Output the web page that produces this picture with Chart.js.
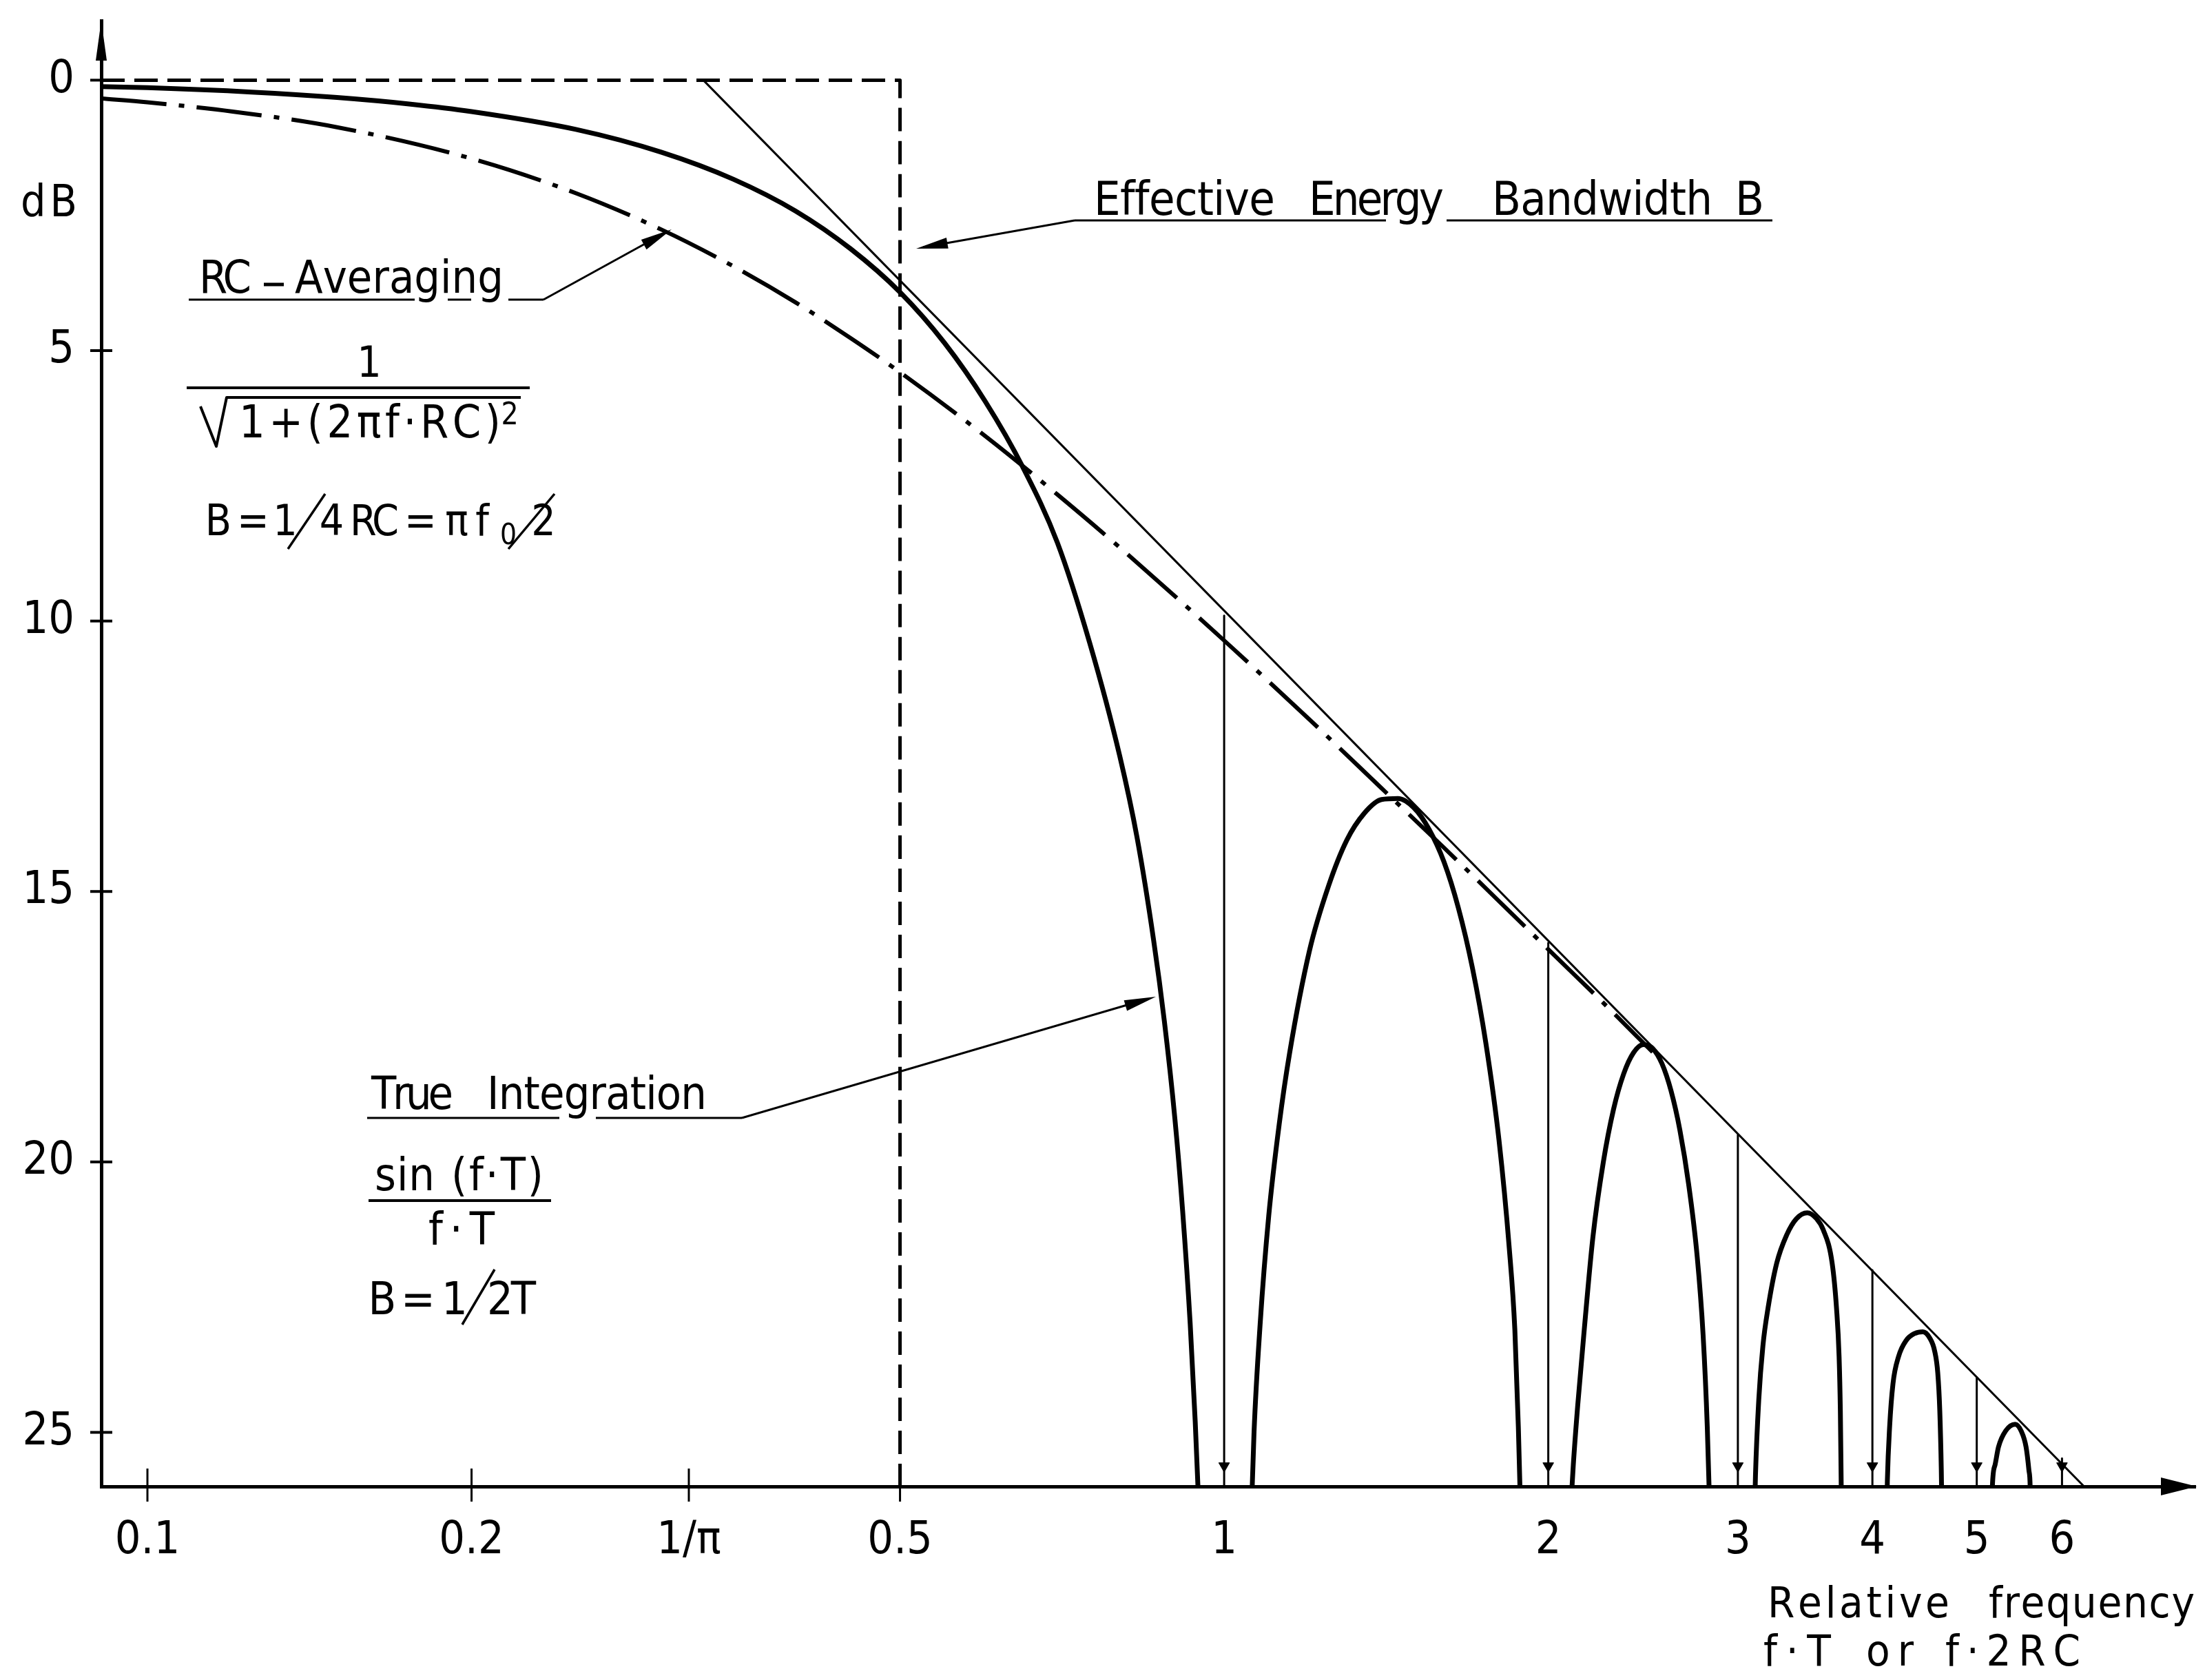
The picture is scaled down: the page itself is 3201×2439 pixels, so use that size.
<!DOCTYPE html>
<html>
<head>
<meta charset="utf-8">
<title>Effective energy bandwidth: RC averaging and true integration</title>
<script src="https://cdn.jsdelivr.net/npm/chart.js@4.4.1/dist/chart.umd.min.js"></script>
<style>
  html, body { margin: 0; padding: 0; background: #fff; }
  #wrap { width: 3201px; height: 2439px; position: relative; }
</style>
</head>
<body>
<div id="wrap"><canvas id="chart"></canvas></div>
<script>
// --- data: [relative frequency, attenuation in dB] ---

const xTickValues = [0.1, 0.2, 0.3183, 0.5, 1, 2, 3, 4, 5, 6];
const xTickLabels = ['0.1', '0.2', '1/π', '0.5', '1', '2', '3', '4', '5', '6'];
const yTickValues = [0, 5, 10, 15, 20, 25];
const yTickLabels = ['0', '5', '10', '15', '20', '25'];

// true integration, sin(f·T)/(f·T): main lobe and the side lobes
const sincMainLobe = [
  [0.0906, 0.12], [0.1, 0.14], [0.125, 0.22], [0.15, 0.32], [0.175, 0.44], [0.2, 0.58],
  [0.25, 0.91], [0.3, 1.33], [0.35, 1.83], [0.4, 2.42], [0.45, 3.12], [0.5, 3.92],
  [0.55, 4.86], [0.6, 5.94], [0.65, 7.15], [0.7, 8.55], [0.75, 10.4], [0.8, 12.5],
  [0.83, 14.0], [0.86, 15.9], [0.88, 17.4], [0.9, 19.2], [0.915, 20.9], [0.93, 23.0],
  [0.94, 24.8], [0.95, 27.0]
];
const sincSideLobe1 = [
  [1.058, 27.0], [1.066, 25.0], [1.08, 23.0], [1.1, 21.0], [1.125, 19.3], [1.15, 18.0],
  [1.2, 16.1], [1.25, 14.9], [1.3, 14.05], [1.35, 13.55], [1.4, 13.3], [1.45, 13.28],
  [1.5, 13.45], [1.55, 13.85], [1.6, 14.45], [1.65, 15.3], [1.7, 16.4], [1.75, 17.8],
  [1.8, 19.6], [1.84, 21.6], [1.862, 23.1], [1.876, 24.9], [1.888, 27.0]
];
const sincSideLobe2 = [
  [2.09, 27.0], [2.11, 25.6], [2.13, 24.5], [2.16, 23.1], [2.2, 21.4], [2.25, 20.0],
  [2.3, 19.02], [2.35, 18.37], [2.4, 17.98], [2.45, 17.83], [2.5, 17.9], [2.55, 18.18],
  [2.6, 18.68], [2.65, 19.41], [2.7, 20.41], [2.75, 21.75], [2.785, 23.2], [2.81, 24.9],
  [2.83, 27.0]
];
const sincSideLobe3 = [
  [3.105, 27.0], [3.115, 25.8], [3.137, 24.4], [3.165, 23.4], [3.2, 22.7], [3.26, 21.87],
  [3.33, 21.35], [3.4, 21.05], [3.48, 20.94], [3.55, 21.05], [3.6, 21.25], [3.67, 21.87],
  [3.705, 22.72], [3.725, 23.6], [3.735, 24.6], [3.742, 26.0], [3.748, 27.0]
];
const sincSideLobe4 = [
  [4.12, 27.0], [4.13, 25.9], [4.15, 24.9], [4.18, 24.1], [4.23, 23.6], [4.3, 23.3],
  [4.38, 23.17], [4.456, 23.14], [4.52, 23.25], [4.57, 23.5], [4.6, 23.9], [4.62, 24.6],
  [4.635, 25.7], [4.645, 27.0]
];
const sincSideLobe5 = [
  [5.16, 27.0], [5.17, 26.0], [5.2, 25.6], [5.238, 25.27], [5.32, 24.97], [5.428, 24.85],
  [5.5, 24.98], [5.556, 25.27], [5.59, 25.7], [5.605, 26.0], [5.615, 27.0]
];

// RC averaging, 1/sqrt(1+(2πf·RC)^2)
const rcAveraging = [
  [0.0906, 0.34], [0.1, 0.41], [0.12, 0.58], [0.15, 0.87], [0.2, 1.45], [0.25, 2.09],
  [0.3, 2.76], [0.35, 3.44], [0.4, 4.11], [0.45, 4.77], [0.5, 5.4], [0.6, 6.58],
  [0.7, 7.66], [0.8, 8.64], [0.9, 9.54], [1.0, 10.36], [1.2, 11.82], [1.4, 13.09],
  [1.6, 14.19], [1.8, 15.18], [2.0, 16.07], [2.25, 17.06], [2.5, 17.97]
];

// straight -20 dB/decade envelope and the ideal rectangular band B
const envelope = [[0.3283, 0], [6.29, 26]];
const idealBand = [[0.0906, 0], [0.5, 0], [0.5, 26]];

// zeros of the sinc response, marked by thin arrows down from the envelope
const zeroFreqs = [1, 2, 3, 4, 5, 6];
const zeroTops = [9.9, 15.95, 19.5, 22.0, 23.98, 25.48];
const zeroArrowDb = 25.62;

// --- styling ---
const ink = '#000';
const tickFont = '"Liberation Sans Narrow", "DejaVu Sans Condensed", "DejaVu Sans", sans-serif';
const textFont = '"DejaVu Sans", sans-serif';
const squeeze = 0.9;

function toPoints(pairs) {
  return pairs.map(p => ({ x: p[0], y: p[1] }));
}

function lineSet(pairs, width, dash) {
  return {
    data: toPoints(pairs),
    showLine: true,
    borderColor: ink,
    borderWidth: width,
    borderDash: dash || [],
    borderJoinStyle: 'round',
    pointRadius: 0,
    cubicInterpolationMode: 'monotone'
  };
}

const datasets = [
  lineSet(idealBand, 5, [34, 14]),
  lineSet(envelope, 3),
  lineSet(rcAveraging, 6, [95, 18, 8, 18]),
  lineSet(sincMainLobe, 7),
  lineSet(sincSideLobe1, 7),
  lineSet(sincSideLobe2, 7),
  lineSet(sincSideLobe3, 7),
  lineSet(sincSideLobe4, 7),
  lineSet(sincSideLobe5, 7)
];

zeroFreqs.forEach((f, i) => {
  const set = lineSet([[f, zeroTops[i]], [f, zeroArrowDb], [f, 26]], 3);
  set.cubicInterpolationMode = 'default';
  set.pointRadius = [0, 9, 0];
  set.pointStyle = 'triangle';
  set.rotation = 180;
  set.pointBackgroundColor = ink;
  set.pointBorderColor = ink;
  set.pointBorderWidth = 1;
  datasets.push(set);
});

// --- annotation helpers (text, leaders, arrows) ---
function fitText(ctx, str, left, right, baseline, size) {
  ctx.save();
  ctx.font = size + 'px ' + textFont;
  ctx.textAlign = 'left';
  ctx.textBaseline = 'alphabetic';
  ctx.fillStyle = ink;
  const chars = Array.from(str);
  const widths = chars.map(c => ctx.measureText(c).width * squeeze);
  const natural = widths.reduce((a, b) => a + b, 0);
  if (chars.length === 1) {
    ctx.translate((left + right) / 2 - widths[0] / 2, baseline);
    ctx.scale(squeeze, 1);
    ctx.fillText(str, 0, 0);
  } else {
    const gap = (right - left - natural) / (chars.length - 1);
    let x = left;
    chars.forEach((c, i) => {
      ctx.save();
      ctx.translate(x, baseline);
      ctx.scale(squeeze, 1);
      ctx.fillText(c, 0, 0);
      ctx.restore();
      x += widths[i] + gap;
    });
  }
  ctx.restore();
}

function polyline(ctx, pts, width) {
  ctx.save();
  ctx.strokeStyle = ink;
  ctx.lineWidth = width;
  ctx.lineJoin = 'round';
  ctx.beginPath();
  pts.forEach((p, i) => (i ? ctx.lineTo(p[0], p[1]) : ctx.moveTo(p[0], p[1])));
  ctx.stroke();
  ctx.restore();
}

function arrowHead(ctx, fromX, fromY, tipX, tipY, len, half) {
  const a = Math.atan2(tipY - fromY, tipX - fromX);
  const bx = tipX - len * Math.cos(a), by = tipY - len * Math.sin(a);
  ctx.save();
  ctx.fillStyle = ink;
  ctx.beginPath();
  ctx.moveTo(tipX, tipY);
  ctx.lineTo(bx + half * Math.sin(a), by - half * Math.cos(a));
  ctx.lineTo(bx - half * Math.sin(a), by + half * Math.cos(a));
  ctx.closePath();
  ctx.fill();
  ctx.restore();
}

// words placed as [text, left, right, baseline, size]
const labelWords = [
  ['dB', 30, 112, 314, 64],
  ['Effective', 1588, 1851, 312, 68], ['Energy', 1900, 2096, 312, 68],
  ['Bandwidth', 2166, 2486, 312, 68], ['B', 2521, 2559, 312, 68],
  ['RC', 289, 365, 425, 66], ['Averaging', 428, 731, 425, 66],
  ['1', 526, 546, 547, 62],
  ['1+(2πf·RC)', 347, 727, 635, 66], ['2', 729, 751, 616, 44],
  ['B', 300, 334, 777, 62], ['=', 350, 385, 777, 62], ['1', 403, 425, 777, 62],
  ['4', 466, 497, 777, 62], ['RC', 508, 579, 777, 62], ['=', 595, 626, 777, 62],
  ['π', 644, 682, 777, 62], ['f', 687, 713, 777, 62],
  ['0', 729, 747, 790, 42], ['2', 771, 807, 777, 62],
  ['True', 539, 658, 1610, 66], ['Integration', 707, 1026, 1610, 66],
  ['sin', 544, 631, 1728, 66], ['(f·T)', 655, 789, 1728, 66],
  ['f·T', 622, 718, 1807, 66],
  ['B', 537, 573, 1908, 66], ['=', 592, 622, 1908, 66], ['1', 650, 670, 1908, 66],
  ['2T', 707, 778, 1908, 66],
  ['Relative', 2566, 2830, 2348, 63], ['frequency', 2887, 3186, 2348, 63],
  ['f·T', 2560, 2658, 2418, 63], ['or', 2709, 2778, 2418, 63], ['f·2RC', 2824, 3020, 2418, 63]
];

// strokes: underlines, fraction bars, radical, slashes, leaders
const labelStrokes = [
  [[[1560, 320], [2012, 320]], 3], [[[2100, 320], [2573, 320]], 3],
  [[[1560, 320], [1340, 359]], 3],
  [[[383, 413], [412, 413]], 5],
  [[[274, 435], [602, 435]], 3], [[[650, 435], [684, 435]], 3], [[[738, 435], [789, 435]], 3],
  [[[789, 435], [958, 342]], 3],
  [[[271, 563], [769, 563]], 4],
  [[[291, 590], [314, 648], [329, 577], [756, 577]], 4],
  [[[418, 797], [472, 717]], 3.5], [[[738, 797], [805, 717]], 3.5],
  [[[533, 1623], [812, 1623]], 3], [[[865, 1623], [1077, 1623]], 3],
  [[[1077, 1623], [1660, 1452]], 3],
  [[[535, 1743], [800, 1743]], 4],
  [[[671, 1923], [718, 1843]], 3.5]
];

// leader arrowheads as [fromX, fromY, tipX, tipY]
const leaderArrows = [
  [1560, 320, 1330, 361],
  [789, 435, 975, 333],
  [1077, 1623, 1678, 1447]
];

const decorations = {
  id: 'decorations',
  afterDraw(chart) {
    const ctx = chart.ctx;
    const area = chart.chartArea;
    const xs = chart.scales.x;
    const ys = chart.scales.y;

    // axis arrowheads
    arrowHead(ctx, area.left, area.top + 60, area.left, area.top, 58, 8);
    arrowHead(ctx, area.right - 60, area.bottom, area.right + 2, area.bottom, 52, 13);

    // crossing tick marks
    yTickValues.forEach(v => {
      const y = ys.getPixelForValue(v);
      polyline(ctx, [[area.left - 16, y], [area.left + 16, y]], 4);
    });
    xTickValues.filter(v => v <= 0.5).forEach(v => {
      const x = xs.getPixelForValue(v);
      polyline(ctx, [[x, area.bottom - 26], [x, area.bottom + 22]], 3);
    });

    labelWords.forEach(w => fitText(ctx, w[0], w[1], w[2], w[3], w[4]));
    labelStrokes.forEach(s => polyline(ctx, s[0], s[1]));
    leaderArrows.forEach(a => arrowHead(ctx, a[0], a[1], a[2], a[3], 46, 8));
  }
};

new Chart(document.getElementById('chart'), {
  type: 'scatter',
  data: { datasets: datasets },
  options: {
    responsive: true,
    maintainAspectRatio: false,
    animation: false,
    devicePixelRatio: 1,
    events: [],
    layout: { padding: { top: 30, right: 14, bottom: 0, left: 0 } },
    plugins: { legend: { display: false }, tooltip: { enabled: false } },
    scales: {
      x: {
        type: 'logarithmic',
        min: 0.0906,
        max: 7.98,
        afterBuildTicks: s => { s.ticks = xTickValues.map(v => ({ value: v })); },
        afterFit: s => { s.height = 281; s.paddingLeft = 0; s.paddingRight = 0; },
        ticks: {
          autoSkip: false,
          maxRotation: 0,
          padding: 40,
          color: ink,
          font: { family: tickFont, size: 66 },
          callback: (v, i) => xTickLabels[i]
        },
        grid: { display: false, drawTicks: false },
        border: { display: true, color: ink, width: 5 }
      },
      y: {
        type: 'linear',
        reverse: true,
        min: -1.1,
        max: 26,
        afterBuildTicks: s => { s.ticks = yTickValues.map(v => ({ value: v })); },
        afterFit: s => { s.width = 147; s.paddingTop = 0; s.paddingBottom = 0; },
        ticks: {
          padding: 39,
          color: ink,
          font: { family: tickFont, size: 66 },
          callback: (v, i) => yTickLabels[i]
        },
        grid: { display: false, drawTicks: false },
        border: { display: true, color: ink, width: 5 }
      }
    }
  },
  plugins: [decorations]
});
</script>
</body>
</html>
